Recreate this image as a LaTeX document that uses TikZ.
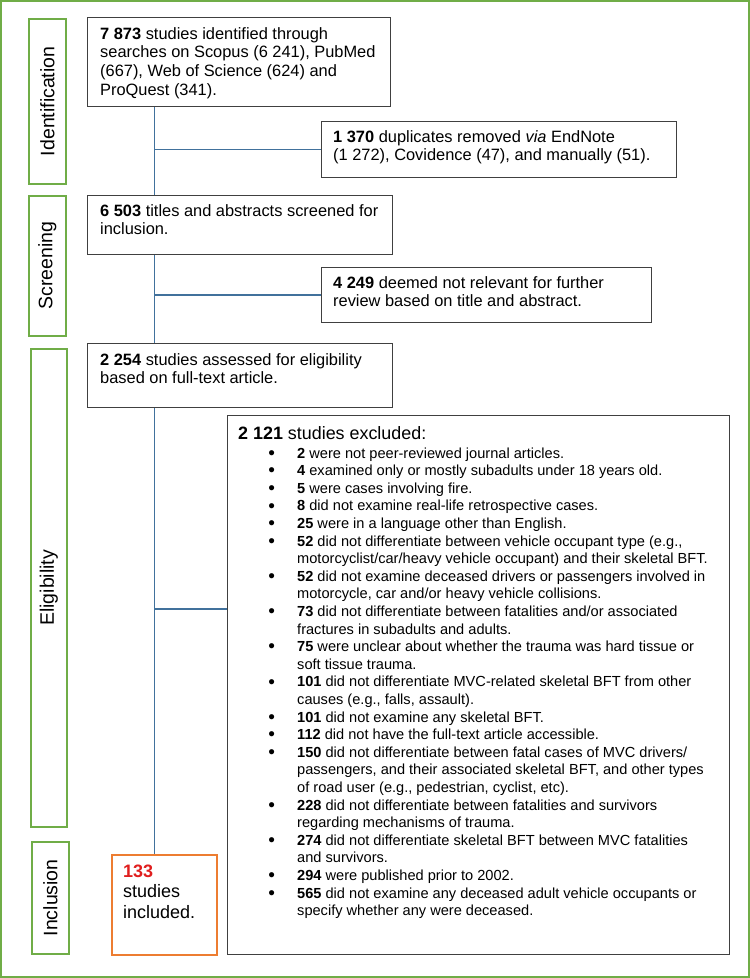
\documentclass[tikz,border=0pt]{standalone}
\usepackage{fontspec}
\setmainfont{Liberation Sans}
\definecolor{grn}{RGB}{112,173,71}
\definecolor{org}{RGB}{237,125,49}
\definecolor{lnk}{RGB}{65,113,156}
\definecolor{rd}{RGB}{224,30,30}
\definecolor{bx}{RGB}{64,64,64}
\newcommand\bul[2]{\makebox[59pt][l]{\hspace{30.2pt}\raisebox{-1.2pt}{\fontsize{19}{0}\selectfont\textbullet}}\textbf{#1} #2}
\newcommand\cont[1]{\hspace*{59pt}#1}
\begin{document}
\begin{tikzpicture}[x=1pt,y=-1pt,
  stagebox/.style={draw=grn, line width=1.6pt, inner sep=0, anchor=north west},
  stagetxt/.style={inner sep=0, rotate=90, font=\fontsize{19.5}{22}\selectfont},
  flowbox/.style={draw=bx, line width=1pt, fill=white, inner sep=0, anchor=north west},
  flowtxt/.style={inner sep=0, anchor=base west, font=\fontsize{16.4}{18.8}\selectfont},
  link/.style={draw=lnk, line width=1.2pt}]
\useasboundingbox (0,0) rectangle (750,978);
\draw[grn, line width=2pt] (1,1) rectangle (749,977);

% stage labels
\node[stagebox, minimum width=37pt, minimum height=165pt] (sid) at (28,18) {};
\node[stagetxt] (lid) at (sid.center) {Identification};
\node[stagebox, minimum width=37pt, minimum height=140pt] (ssc) at (28,195) {};
\node[stagetxt] (lsc) at (ssc.center) {Screening};
\node[stagebox, minimum width=36pt, minimum height=478pt] (sel) at (30,348) {};
\node[stagetxt] (lel) at (sel.center) {Eligibility};
\node[stagebox, minimum width=37pt, minimum height=112pt] (sin) at (31,841) {};
\node[stagetxt] (lin) at (sin.center) {Inclusion};

% spine
\coordinate (sp) at (154.5,0);
\coordinate (exb) at (154.5,609);

% boxes
\node[flowbox, minimum width=303pt, minimum height=89pt] (b1) at (87,17) {};
\node[flowbox, minimum width=355pt, minimum height=56pt] (dup) at (321,121) {};
\node[flowbox, minimum width=305pt, minimum height=59pt] (b2) at (87,195) {};
\node[flowbox, minimum width=330pt, minimum height=55pt] (nr) at (321,267) {};
\node[flowbox, minimum width=305pt, minimum height=64pt] (b3) at (87,343) {};
\node[flowbox, minimum width=502pt, minimum height=539pt] (ex) at (227,415) {};
\node[flowbox, draw=org, line width=1.5pt, minimum width=105pt, minimum height=100pt] (inc) at (111,854) {};

% connectors
\draw[link] (b1.south -| sp) -- (b2.north -| sp);
\draw[link] (dup.west -| sp) -- (dup.west);
\draw[link] (b2.south -| sp) -- (b3.north -| sp);
\draw[link] (nr.west -| sp) -- (nr.west);
\draw[link] (b3.south -| sp) -- (inc.north -| sp);
\draw[link] (exb) -- (exb -| ex.west);

% texts
\node[flowtxt] (t1) at (100,39) {\parbox[t]{290pt}{\textbf{7 873} studies identified through\\
searches on Scopus (6 241), PubMed\\
(667), Web of Science (624) and\\
ProQuest (341).}};
\node[flowtxt] (tdup) at (333,142) {\parbox[t]{340pt}{\textbf{1 370} duplicates removed \textit{via} EndNote\\
(1 272), Covidence (47), and manually (51).}};
\node[flowtxt] (t2) at (100,216) {\parbox[t]{290pt}{\textbf{6 503} titles and abstracts screened for\\
inclusion.}};
\node[flowtxt] (tnr) at (333,288) {\parbox[t]{320pt}{\textbf{4 249} deemed not relevant for further\\
review based on title and abstract.}};
\node[flowtxt] (t3) at (100,365) {\parbox[t]{290pt}{\textbf{2 254} studies assessed for eligibility\\
based on full-text article.}};
\node[flowtxt, font=\fontsize{17.9}{20}\selectfont] (tex) at (238,439) {\textbf{2 121} studies excluded:};
\node[flowtxt, font=\fontsize{14.6}{17.6}\selectfont] (tlist) at (238,458) {\parbox[t]{485pt}{%
\bul{2}{were not peer-reviewed journal articles.}\\
\bul{4}{examined only or mostly subadults under 18 years old.}\\
\bul{5}{were cases involving fire.}\\
\bul{8}{did not examine real-life retrospective cases.}\\
\bul{25}{were in a language other than English.}\\
\bul{52}{did not differentiate between vehicle occupant type (e.g.,}\\
\cont{motorcyclist/car/heavy vehicle occupant) and their skeletal BFT.}\\
\bul{52}{did not examine deceased drivers or passengers involved in}\\
\cont{motorcycle, car and/or heavy vehicle collisions.}\\
\bul{73}{did not differentiate between fatalities and/or associated}\\
\cont{fractures in subadults and adults.}\\
\bul{75}{were unclear about whether the trauma was hard tissue or}\\
\cont{soft tissue trauma.}\\
\bul{101}{did not differentiate MVC-related skeletal BFT from other}\\
\cont{causes (e.g., falls, assault).}\\
\bul{101}{did not examine any skeletal BFT.}\\
\bul{112}{did not have the full-text article accessible.}\\
\bul{150}{did not differentiate between fatal cases of MVC drivers/}\\
\cont{passengers, and their associated skeletal BFT, and other types}\\
\cont{of road user (e.g., pedestrian, cyclist, etc).}\\
\bul{228}{did not differentiate between fatalities and survivors}\\
\cont{regarding mechanisms of trauma.}\\
\bul{274}{did not differentiate skeletal BFT between MVC fatalities}\\
\cont{and survivors.}\\
\bul{294}{were published prior to 2002.}\\
\bul{565}{did not examine any deceased adult vehicle occupants or}\\
\cont{specify whether any were deceased.}}};
\node[flowtxt, font=\fontsize{18}{20.5}\selectfont] (tinc) at (123,877) {\parbox[t]{90pt}{\textcolor{rd}{\textbf{133}}\\
studies\\
included.}};
\end{tikzpicture}
\end{document}
